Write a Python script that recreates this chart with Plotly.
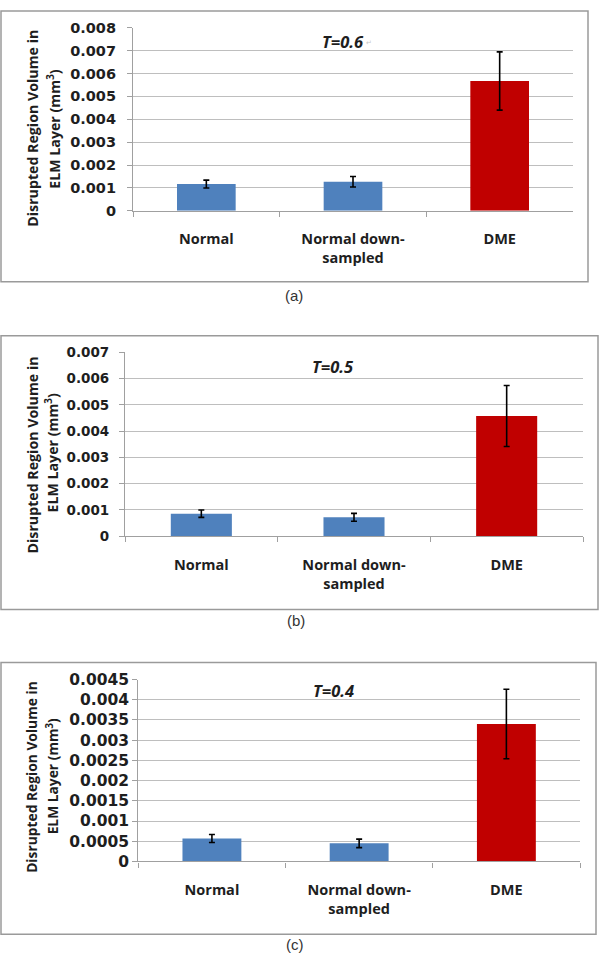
import plotly.graph_objects as go

# ---------------- data ----------------
categories = ["Normal", "Normal down-sampled", "DME"]
category_labels = ["Normal", "Normal down-<br>sampled", "DME"]
bar_colors = ["#4F81BD", "#4F81BD", "#C00000"]

means_t06 = [0.00117, 0.00127, 0.00567]
errors_t06 = [0.00017, 0.00023, 0.00127]
means_t05 = [0.00086, 0.00072, 0.00458]
errors_t05 = [0.00014, 0.00015, 0.00116]
means_t04 = [0.000568, 0.000447, 0.00340]
errors_t04 = [0.00010, 0.000105, 0.00086]

yticks_t06 = [0, 0.001, 0.002, 0.003, 0.004, 0.005, 0.006, 0.007, 0.008]
yticklabels_t06 = ["0", "0.001", "0.002", "0.003", "0.004", "0.005", "0.006", "0.007", "0.008"]
yticks_t05 = [0, 0.001, 0.002, 0.003, 0.004, 0.005, 0.006, 0.007]
yticklabels_t05 = ["0", "0.001", "0.002", "0.003", "0.004", "0.005", "0.006", "0.007"]
yticks_t04 = [0, 0.0005, 0.001, 0.0015, 0.002, 0.0025, 0.003, 0.0035, 0.004, 0.0045]
yticklabels_t04 = ["0", "0.0005", "0.001", "0.0015", "0.002", "0.0025", "0.003", "0.0035", "0.004", "0.0045"]

panel_titles = ["T=0.6", "T=0.5", "T=0.4"]
panel_letters = ["(a)", "(b)", "(c)"]
ytitle_line1 = "Disrupted Region Volume in"
ytitle_line2 = "ELM Layer (mm<sup>3</sup>)"

# ---------------- layout helpers ----------------
W, H = 600, 962
def fx(p):
    return p / W
def fy(p):
    return 1 - p / H

TXT = "#1e1e1e"
GRID = "#BEBEBE"
AXIS = "#A0A0A0"

panels = [
    dict(means=means_t06, errs=errors_t06, ticks=yticks_t06, labels=yticklabels_t06,
         x0=133, x1=573, ytop=19, ybot=205.7, border=(1, 2, 588, 278),
         tick_size=14.5, standoff=8, title_xy=(343, 33), letter_xy=(294, 292),
         yt1=(32.5, 121.5), yt2=(53.5, 122.5), yt_size=14.2, xlab_size=14.5),
    dict(means=means_t05, errs=errors_t05, ticks=yticks_t05, labels=yticklabels_t05,
         x0=125, x1=583, ytop=350, ybot=537.3, border=(1, 333, 598, 612),
         tick_size=13.5, standoff=7, title_xy=(333, 364), letter_xy=(296, 623),
         yt1=(32, 455), yt2=(52, 452), yt_size=14.2, xlab_size=14.5),
    dict(means=means_t04, errs=errors_t04, ticks=yticks_t04, labels=yticklabels_t04,
         x0=138.3, x1=580, ytop=683.3, ybot=868.7, border=(1, 666, 596, 943),
         tick_size=15.5, standoff=0, title_xy=(333, 694), letter_xy=(295, 953),
         yt1=(32, 782.5), yt2=(53, 782), yt_size=13.8, xlab_size=14.5),
]

fig = go.Figure()
shapes = []
annotations = []

for i, p in enumerate(panels):
    suffix = "" if i == 0 else str(i + 1)
    fig.add_trace(go.Bar(
        x=categories, y=p["means"], width=0.4,
        marker=dict(color=bar_colors, line=dict(width=0)),
        error_y=dict(type="data", array=p["errs"], visible=True,
                     color="black", thickness=1.6, width=3),
        xaxis="x" + suffix, yaxis="y" + suffix, showlegend=False,
    ))
    xa = dict(
        domain=[fx(p["x0"]), fx(p["x1"])], anchor="y" + suffix,
        type="category", categoryorder="array", categoryarray=categories,
        tickvals=categories, ticktext=category_labels,
        showline=True, linecolor=AXIS, linewidth=1.2,
        ticks="outside", tickson="boundaries", ticklen=5, tickcolor=AXIS, tickwidth=1.2,
        showgrid=False, zeroline=False,
        tickfont=dict(family="Open Sans", size=p["xlab_size"], color=TXT, weight="bold"),
        ticklabelstandoff=15, fixedrange=True,
    )
    ya = dict(
        domain=[fy(p["ybot"]), fy(p["ytop"])], anchor="x" + suffix,
        range=[0, p["ticks"][-1]], tickvals=p["ticks"], ticktext=p["labels"],
        showline=True, linecolor=AXIS, linewidth=1.2,
        ticks="outside", ticklen=5, tickcolor=AXIS, tickwidth=1.2,
        showgrid=True, gridcolor=GRID, gridwidth=1.2, zeroline=False,
        tickfont=dict(family="DejaVu Sans", size=p["tick_size"], color=TXT, weight="bold"),
        ticklabelstandoff=p["standoff"], fixedrange=True,
    )
    fig.update_layout(**{"xaxis" + suffix: xa, "yaxis" + suffix: ya})

    bx0, by0, bx1, by1 = p["border"]
    shapes.append(dict(type="rect", xref="paper", yref="paper",
                       x0=fx(bx0), x1=fx(bx1), y0=fy(by1), y1=fy(by0),
                       line=dict(color="#9A9A9A", width=1.5), fillcolor="rgba(0,0,0,0)", layer="below"))

    tx, ty = p["title_xy"]
    annotations.append(dict(xref="paper", yref="paper", x=fx(tx), y=fy(ty),
                            text="<b><i>" + panel_titles[i] + "</i></b>", showarrow=False,
                            xanchor="center", yanchor="middle",
                            font=dict(family="Open Sans", size=16.5, color=TXT)))
    lx, ly = p["letter_xy"]
    annotations.append(dict(xref="paper", yref="paper", x=fx(lx), y=fy(ly),
                            text=panel_letters[i], showarrow=False,
                            xanchor="center", yanchor="middle",
                            font=dict(family="Liberation Sans", size=15, color="#333333")))
    for (cx, cy), txt in ((p["yt1"], ytitle_line1), (p["yt2"], ytitle_line2)):
        annotations.append(dict(xref="paper", yref="paper", x=fx(cx), y=fy(cy),
                                text="<b>" + txt + "</b>", showarrow=False, textangle=-90,
                                xanchor="center", yanchor="middle",
                                font=dict(family="Open Sans", size=p["yt_size"], color=TXT)))

# tiny paragraph mark after T=0.6
annotations.append(dict(xref="paper", yref="paper", x=fx(369), y=fy(35), text="↵",
                        showarrow=False, xanchor="center", yanchor="middle",
                        font=dict(family="DejaVu Sans", size=7, color="#C8C8C8")))

fig.update_layout(
    width=W, height=H, margin=dict(l=0, r=0, t=0, b=0),
    paper_bgcolor="white", plot_bgcolor="white",
    shapes=shapes, annotations=annotations, showlegend=False,
)

fig.write_html("out.html", config={"displayModeBar": False},
               post_script="document.body.style.margin='0';document.body.style.overflow='hidden';")
